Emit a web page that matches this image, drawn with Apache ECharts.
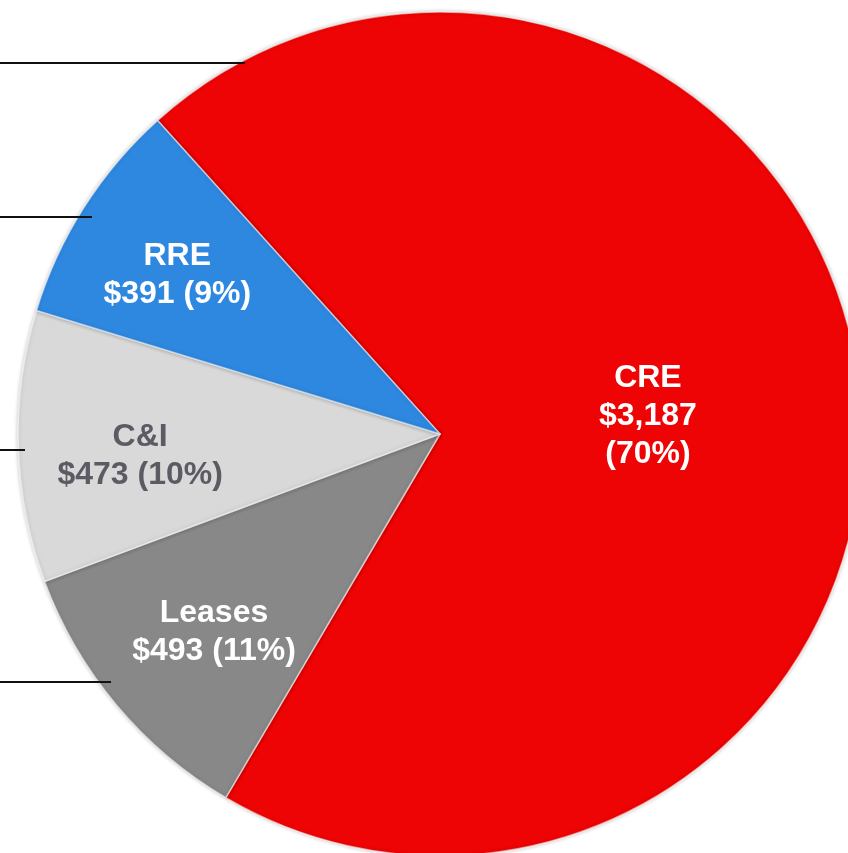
<!DOCTYPE html>
<html>
<head>
<meta charset="utf-8">
<script src="https://cdn.jsdelivr.net/npm/echarts@6/dist/echarts.min.js"></script>
<style>
html,body{margin:0;padding:0;background:#fff;}
#main{width:848px;height:853px;}
</style>
</head>
<body>
<div id="main"></div>
<script>
// data, clockwise from the RRE/CRE boundary
var categories = ['CRE', 'Leases', 'C&I', 'RRE'];
var values = [3187, 493, 473, 391];

// styles
var colors = ['#EE0404', '#888888', '#D9D9D9', '#2E88E0'];
var labelColors = ['#FFFFFF', '#FFFFFF', '#5B5B63', '#FFFFFF'];
var labelNudge = [[-5, 4], [10, 0], [8, 13], [-3, 7]];
// leader lines at the left (their labels are cut off in the source)
var leaderY = [63, 217, 450, 682];
var leaderEnd = [245, 92, 25, 111];

var center = [440, 434];
var radius = 422;

function labelText(p) {
	var v = '$' + echarts.format.addCommas(p.value);
	var pct = '(' + Math.round(p.percent) + '%)';
	if (p.name === 'CRE') {
		return p.name + '\n' + v + '\n' + pct;
	}
	return p.name + '\n' + v + ' ' + pct;
}

var mainData = [];
var ghostData = [];
for (var i = 0; i < categories.length; i++) {
	mainData.push({
		name: categories[i],
		value: values[i],
		itemStyle: {color: colors[i]},
		label: {show: categories[i] === 'CRE', color: labelColors[i], offset: labelNudge[i]}
	});
	ghostData.push({
		name: categories[i],
		value: values[i],
		label: {show: categories[i] !== 'CRE', color: labelColors[i], offset: labelNudge[i]}
	});
}

var lines = [];
for (var j = 0; j < leaderY.length; j++) {
	lines.push({
		type: 'line',
		shape: {x1: 0, y1: leaderY[j], x2: leaderEnd[j], y2: leaderY[j]},
		style: {stroke: '#111111', lineWidth: 2},
		z: 10
	});
}

var labelStyle = {
	position: 'inside',
	formatter: labelText,
	fontFamily: 'Liberation Sans, Arial, sans-serif',
	fontWeight: 'bold',
	fontSize: 32,
	lineHeight: 38
};

var option = {
	animation: false,
	graphic: lines,
	series: [
		{
			type: 'pie',
			center: center,
			radius: radius,
			startAngle: 132,
			clockwise: true,
			silent: true,
			itemStyle: {
				borderColor: 'rgba(255,255,255,0.55)',
				borderWidth: 1.5,
				shadowBlur: 4,
				shadowColor: 'rgba(0,0,0,0.25)'
			},
			label: labelStyle,
			labelLine: {show: false},
			data: mainData
		},
		{
			// transparent ring: puts the small slices' labels further out
			type: 'pie',
			center: center,
			radius: [190, 420],
			startAngle: 132,
			clockwise: true,
			silent: true,
			itemStyle: {color: 'rgba(0,0,0,0)'},
			label: labelStyle,
			labelLine: {show: false},
			data: ghostData
		}
	]
};

var myChart = echarts.init(document.getElementById('main'));
myChart.setOption(option);
</script>
</body>
</html>
